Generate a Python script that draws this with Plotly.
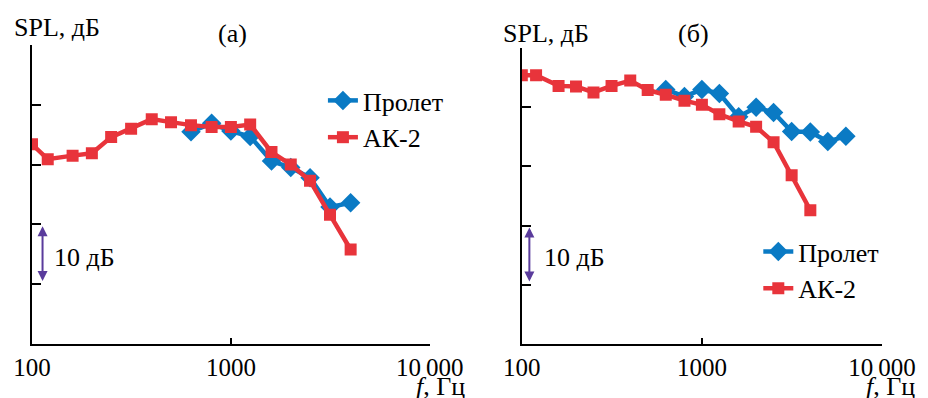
import plotly.graph_objects as go

# Frequencies (Hz)
freq_ak = [100, 120, 160, 200, 250, 315, 400, 500, 630, 800, 1000, 1250, 1600, 2000, 2500, 3150, 4000]
freq_pr_a = [630, 800, 1000, 1250, 1600, 2000, 2500, 3150, 4000]
freq_pr_b = [630, 800, 1000, 1250, 1600, 2000, 2500, 3150, 4000, 5000, 6300]

# Panel (a) SPL (relative dB)
ak2_a = [33.4, 30.9, 31.5, 31.9, 34.6, 36.0, 37.6, 37.1, 36.6, 36.3, 36.3, 36.7, 32.1, 30.0, 27.3, 21.6, 15.8]
prolet_a = [35.5, 36.9, 35.6, 34.7, 30.6, 29.5, 27.8, 22.9, 23.6]

# Panel (b) SPL (relative dB)
ak2_b = [45.4, 45.4, 43.6, 43.5, 42.5, 43.6, 44.5, 42.9, 42.1, 41.1, 40.4, 38.8, 37.6, 36.7, 34.1, 28.5, 22.6]
prolet_b = [43.0, 41.8, 43.0, 42.3, 38.4, 40.0, 39.1, 35.9, 35.8, 34.2, 35.1]

x_tickvals = [100, 1000, 10000]
x_ticktext = ["100", "1000", "10\u2009000"]
y_tickvals = [0, 10, 20, 30, 40, 50]

BLUE = "#0a7ac4"
RED = "#e8343b"
PURPLE = "#5a3b9c"
FONT = "Liberation Serif, Times New Roman, DejaVu Serif, serif"
FS = 26
FS_TICK = 25

fig = go.Figure()

fig.add_trace(go.Scatter(x=freq_pr_a, y=prolet_a, name="Пролет", mode="lines+markers",
                         line=dict(color=BLUE, width=4.5), marker=dict(symbol="diamond", size=15, color=BLUE),
                         xaxis="x", yaxis="y", legend="legend", legendgroup="a1"))
fig.add_trace(go.Scatter(x=freq_ak, y=ak2_a, name="АК-2", mode="lines+markers",
                         line=dict(color=RED, width=4.5), marker=dict(symbol="square", size=12, color=RED),
                         xaxis="x", yaxis="y", legend="legend", legendgroup="a2"))
fig.add_trace(go.Scatter(x=freq_pr_b, y=prolet_b, name="Пролет", mode="lines+markers",
                         line=dict(color=BLUE, width=4.5), marker=dict(symbol="diamond", size=15, color=BLUE),
                         xaxis="x2", yaxis="y2", legend="legend2"))
fig.add_trace(go.Scatter(x=freq_ak, y=ak2_b, name="АК-2", mode="lines+markers",
                         line=dict(color=RED, width=4.5), marker=dict(symbol="square", size=12, color=RED),
                         xaxis="x2", yaxis="y2", legend="legend2"))

W, H = 928, 398
L, R, T, B = 32, 37, 45, 54
pw = W - L - R
ph = H - T - B


def px(xp):
    return (xp - L) / pw


def py(yp):
    return (H - B - yp) / ph


xaxis_common = dict(type="log", range=[2, 4], tickvals=x_tickvals, ticktext=x_ticktext,
                    ticks="inside", ticklen=6, tickwidth=1.5, tickcolor="black",
                    showline=True, linecolor="black", linewidth=1.5, showgrid=False, zeroline=False,
                    tickfont=dict(family=FONT, size=FS_TICK, color="black"))
yaxis_common = dict(range=[0, 50], tickvals=y_tickvals, showticklabels=False,
                    ticks="inside", ticklen=9, tickwidth=1.5, tickcolor="black",
                    showline=True, linecolor="black", linewidth=1.5, showgrid=False, zeroline=False)

fig.update_layout(
    width=W, height=H,
    margin=dict(l=L, r=R, t=T, b=B),
    paper_bgcolor="white", plot_bgcolor="white",
    font=dict(family=FONT, size=FS, color="black"),
    xaxis=dict(domain=[0, px(434)], anchor="y", **xaxis_common),
    yaxis=dict(domain=[0, 1], anchor="x", **yaxis_common),
    xaxis2=dict(domain=[px(527), 1], anchor="y2", **xaxis_common),
    yaxis2=dict(domain=[0, py(48)], anchor="x2", **yaxis_common),
    legend=dict(x=px(326), y=py(77), xanchor="left", yanchor="top", bgcolor="rgba(0,0,0,0)",
                font=dict(family=FONT, size=FS, color="black"), tracegroupgap=0, traceorder="grouped",
                itemwidth=30),
    legend2=dict(x=px(766), y=py(228), xanchor="left", yanchor="top", bgcolor="rgba(0,0,0,0)",
                 font=dict(family=FONT, size=FS, color="black"), itemwidth=30),
    showlegend=True,
)

annotations = [
    dict(text="SPL, дБ", x=px(57), y=py(27)),
    dict(text="(а)", x=px(235), y=py(33)),
    dict(text="SPL, дБ", x=px(551), y=py(33)),
    dict(text="(б)", x=px(701), y=py(33)),
    dict(text="<i>f</i>, Гц", x=px(445), y=py(387)),
    dict(text="<i>f</i>, Гц", x=px(900), y=py(387)),
]
for a in annotations:
    fig.add_annotation(xref="paper", yref="paper", showarrow=False, xanchor="center", yanchor="middle",
                       font=dict(family=FONT, size=FS, color="black"), **a)

fig.add_annotation(xref="paper", yref="paper", showarrow=False, xanchor="left", yanchor="middle",
                   x=px(52), y=py(257), text="10 дБ", font=dict(family=FONT, size=FS, color="black"))
fig.add_annotation(xref="paper", yref="paper", showarrow=False, xanchor="left", yanchor="middle",
                   x=px(547), y=py(257), text="10 дБ", font=dict(family=FONT, size=FS, color="black"))

# 10 dB scale arrows
for xr, yr, xv in [("x", "y", 2.053), ("x2", "y2", 2.042)]:
    fig.add_annotation(xref=xr, yref=yr, axref=xr, ayref=yr, x=xv, y=19.7, ax=xv, ay=10.3,
                       text="", showarrow=True, arrowhead=2, arrowside="end+start",
                       arrowsize=1, arrowwidth=2, arrowcolor=PURPLE, standoff=0, startstandoff=0)

fig.write_html("out.html", config={"displayModeBar": False},
               post_script="document.body.style.margin='0';document.body.style.overflow='hidden';")
